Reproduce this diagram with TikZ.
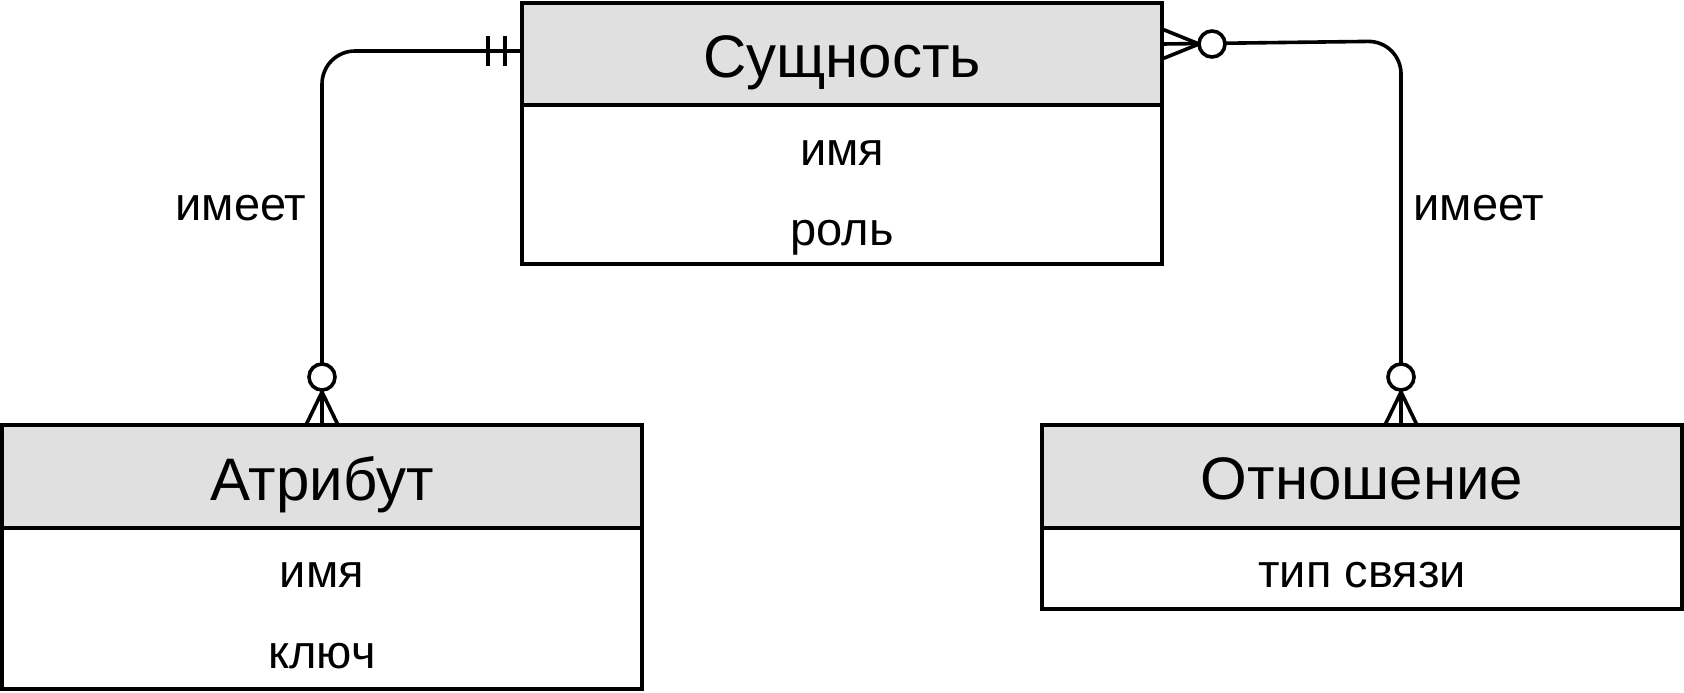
\documentclass[tikz,border=0pt]{standalone}
\usepackage{fontspec}
\setmainfont{Liberation Sans}
\definecolor{hdrgray}{RGB}{224,224,224}
\tikzset{
  hdrbox/.style={draw=black, line width=2pt, fill=hdrgray, rectangle, inner sep=0pt, minimum width=320pt},
  bodybox/.style={draw=black, line width=2pt, fill=white, rectangle, inner sep=0pt, minimum width=320pt},
  hdrtext/.style={inner sep=0pt, anchor=base, font=\fontsize{30pt}{36pt}\selectfont},
  rowtext/.style={inner sep=0pt, anchor=base, font=\fontsize{23.5pt}{28pt}\selectfont},
  lbltext/.style={inner sep=0pt, anchor=base west, font=\fontsize{23.5pt}{28pt}\selectfont},
  conn/.style={draw=black, line width=1.8pt},
  ring/.style={draw=black, line width=1.8pt, fill=white}
}
\begin{document}
\begin{tikzpicture}[x=0.5pt, y=-0.5pt]
\useasboundingbox (0,0) rectangle (1684,692);

% Entity
\node[hdrbox, minimum height=51pt] (entH) at (842,54) {};
\node[bodybox, minimum height=79.5pt] (entB) at (842,184.5) {};
\node[hdrtext] (entT) at (842,77) {Сущность};
\node[rowtext] (entR1) at (842,165) {имя};
\node[rowtext] (entR2) at (842,245) {роль};

% Attribute
\node[hdrbox, minimum height=51.5pt] (attrH) at (322,476.5) {};
\node[bodybox, minimum height=80.5pt] (attrB) at (322,608.5) {};
\node[hdrtext] (attrT) at (322,500) {Атрибут};
\node[rowtext] (attrR1) at (322,587) {имя};
\node[rowtext] (attrR2) at (322,668) {ключ};

% Relation
\node[hdrbox, minimum height=51.5pt] (relH) at (1362,476.5) {};
\node[bodybox, minimum height=40.5pt] (relB) at (1362,568.5) {};
\node[hdrtext] (relT) at (1362,499) {Отношение};
\node[rowtext] (relR1) at (1362,587) {тип связи};

% connector end points
\coordinate (eL) at (522,51);
\coordinate (aT) at (322,425);
\coordinate (eR) at (1162,44);
\coordinate (rT) at (1401,425);

% left connector: entity (one and only one) -- attribute (zero or many)
\draw[conn, rounded corners=16.5pt] (eL) -- (322,51) -- (aT);
\draw[conn] (488,36) -- (488,66);
\draw[conn] (505,36) -- (505,66);
\draw[conn] (306,425) -- (322,392) -- (338,425);
\draw[ring] (322,377) circle (6.5pt);

% right connector: entity (zero or many) -- relation (zero or many)
\draw[conn, rounded corners=16.5pt] (eR) -- (1401,41) -- (rT);
\draw[conn] (1162,29) -- (1199,44) -- (1162,59);
\draw[ring] (1212,44) circle (6.5pt);
\draw[conn] (1385,425) -- (1401,392) -- (1417,425);
\draw[ring] (1401,377) circle (6.5pt);

% labels
\node[lbltext] (lblL) at (175,220) {имеет};
\node[lbltext] (lblR) at (1413,220) {имеет};
\end{tikzpicture}
\end{document}
